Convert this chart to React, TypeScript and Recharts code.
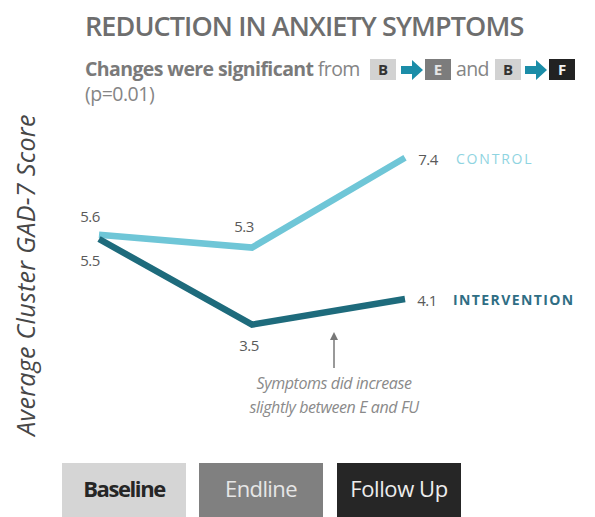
import { LineChart, Line, XAxis, YAxis, LabelList } from 'recharts'

const CATEGORIES = ['Baseline', 'Endline', 'Follow Up']
const CONTROL = [5.6, 5.3, 7.4]
const INTERVENTION = [5.5, 3.5, 4.1]

const data = CATEGORIES.map((c, i) => ({ cat: c, control: CONTROL[i], intervention: INTERVENTION[i] }))

// where each value label sits relative to its point
const CONTROL_LABEL_POS = [{ dx: -9, dy: -19 }, { dx: -8, dy: -22 }, { dx: 23, dy: 1 }]
const INTERVENTION_LABEL_POS = [{ dx: -9, dy: 21 }, { dx: -3, dy: 20 }, { dx: 22, dy: 1 }]

const CONTROL_COLOR = '#6fc6d7'
const INTERVENTION_COLOR = '#1e6b7c'

const BOX_STYLES = [
  { left: 62, bg: '#d5d5d5', color: '#262626', weight: 700, ls: -1.4 },
  { left: 199, bg: '#808080', color: '#e6e6e6', weight: 400, ls: -0.6 },
  { left: 337, bg: '#262626', color: '#ededed', weight: 400, ls: -0.4 },
]

const FONT = "'Open Sans', sans-serif"

function makeLabel(pos: { dx: number; dy: number }[], name: string, nameStyle: any) {
  return (props: any) => {
    const { x, y, value, index } = props
    const p = pos[index]
    return (
      <g>
        <text x={x + p.dx} y={y + p.dy} textAnchor="middle" dominantBaseline="central"
          fontFamily={FONT} fontSize={15} fill="#5a5a5a" letterSpacing={-0.5}>
          {value}
        </text>
        {index === CATEGORIES.length - 1 && (
          <text x={x + nameStyle.dx} y={y + 1} dominantBaseline="central" fontFamily={FONT}
            fontSize={14} fill={nameStyle.color} fontWeight={nameStyle.weight} letterSpacing={nameStyle.ls}>
            {name}
          </text>
        )}
      </g>
    )
  }
}

function Chip({ left, bg, color, text }: { left: number; bg: string; color: string; text: string }) {
  return (
    <div style={{
      position: 'absolute', left, top: 59, width: 26, height: 21, background: bg, color,
      fontFamily: FONT, fontSize: 15, fontWeight: 700, textAlign: 'center', lineHeight: '21px',
    }}>{text}</div>
  )
}

function Arrow({ left }: { left: number }) {
  return (
    <svg style={{ position: 'absolute', left, top: 59 }} width={24} height={22}>
      <path d="M1,7 L12,7 L12,1 L23,11 L12,21 L12,15 L1,15 Z" fill="#1b8da8" />
    </svg>
  )
}

export default function App() {
  return (
    <div style={{ position: 'absolute', left: 0, top: 0, width: 595, height: 517, background: '#fff', overflow: 'hidden' }}>
      {/* header */}
      <div style={{
        position: 'absolute', left: 85, top: 7, fontFamily: FONT, fontSize: 27, fontWeight: 600,
        color: '#6e6e6e', letterSpacing: -0.9, whiteSpace: 'nowrap',
      }}>REDUCTION IN ANXIETY SYMPTOMS</div>
      <div style={{
        position: 'absolute', left: 85, top: 58, fontFamily: FONT, fontSize: 19.5, lineHeight: '22px',
        color: '#858585', letterSpacing: -0.6, whiteSpace: 'nowrap',
      }}>
        <span style={{ fontWeight: 700, color: '#7a7a7a' }}>Changes were significant</span> from
      </div>
      <Chip left={370} bg="#d2d2d2" color="#333" text="B" />
      <Arrow left={400} />
      <Chip left={425} bg="#7c7c7c" color="#e6e6e6" text="E" />
      <div style={{
        position: 'absolute', left: 456, top: 58, fontFamily: FONT, fontSize: 19.5, lineHeight: '22px',
        color: '#858585', letterSpacing: -0.6,
      }}>and</div>
      <Chip left={495} bg="#d2d2d2" color="#333" text="B" />
      <Arrow left={524} />
      <Chip left={549} bg="#222" color="#f2f2f2" text="F" />
      <div style={{
        position: 'absolute', left: 85, top: 83, fontFamily: FONT, fontSize: 19.5, lineHeight: '22px',
        color: '#858585', letterSpacing: -0.5,
      }}>(p=0.01)</div>

      {/* y axis title */}
      <div style={{
        position: 'absolute', left: 25, top: 275, transform: 'translate(-50%, -50%) rotate(-90deg)',
        fontFamily: FONT, fontStyle: 'italic', fontSize: 25, color: '#474747', whiteSpace: 'nowrap',
        letterSpacing: 0.3,
      }}>Average Cluster GAD-7 Score</div>

      <div style={{ position: 'absolute', left: 0, top: 0 }}>
        <LineChart width={595} height={517} data={data} margin={{ top: 132, right: 190, bottom: 171, left: 99 }}>
          <XAxis dataKey="cat" hide />
          <YAxis hide domain={[3, 8]} />
          <Line type="linear" dataKey="control" stroke={CONTROL_COLOR} strokeWidth={6.5} dot={false}
            isAnimationActive={false}>
            <LabelList dataKey="control"
              content={makeLabel(CONTROL_LABEL_POS, 'CONTROL', { dx: 51, color: '#8fd4e1', weight: 400, ls: 1.8 })} />
          </Line>
          <Line type="linear" dataKey="intervention" stroke={INTERVENTION_COLOR} strokeWidth={6.5} dot={false}
            isAnimationActive={false}>
            <LabelList dataKey="intervention"
              content={makeLabel(INTERVENTION_LABEL_POS, 'INTERVENTION', { dx: 48, color: '#2f6e84', weight: 700, ls: 1.4 })} />
          </Line>
        </LineChart>
      </div>

      {/* annotation */}
      <svg style={{ position: 'absolute', left: 326, top: 330 }} width={16} height={40}>
        <line x1={8} y1={6} x2={8} y2={38} stroke="#777" strokeWidth={1.5} />
        <path d="M4,10 L8,2 L12,10 Z" fill="#777" />
      </svg>
      <div style={{
        position: 'absolute', left: 334, top: 371, transform: 'translateX(-50%)', fontFamily: FONT,
        fontStyle: 'italic', fontSize: 16, lineHeight: '24px', color: '#8a8a8a', textAlign: 'center',
        whiteSpace: 'nowrap', letterSpacing: -0.4,
      }}>
        Symptoms did increase<br />slightly between E and FU
      </div>

      {/* timepoint boxes */}
      {CATEGORIES.map((c, i) => (
        <div key={c} style={{
          position: 'absolute', left: BOX_STYLES[i].left, top: 463, width: 124, height: 56,
          background: BOX_STYLES[i].bg, color: BOX_STYLES[i].color, fontWeight: BOX_STYLES[i].weight,
          letterSpacing: BOX_STYLES[i].ls, fontFamily: FONT, fontSize: 22, display: 'flex',
          alignItems: 'center', justifyContent: 'center', paddingBottom: 6, boxSizing: 'border-box',
        }}>{c}</div>
      ))}
    </div>
  )
}
